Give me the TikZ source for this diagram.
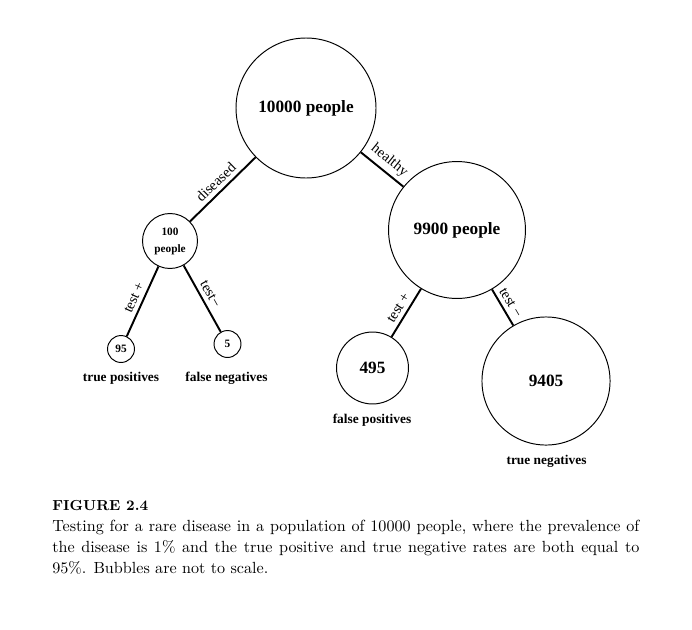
\documentclass[tikz,border=0pt]{standalone}
\usepackage{fontspec}
\newfontfamily\tms{Liberation Serif}
\begin{document}
\begin{tikzpicture}[x=0.62pt,y=-0.62pt,
  bubble/.style={draw, circle, inner sep=0pt, line width=0.6pt},
  bigtxt/.style={font=\tms\bfseries\fontsize{10.7}{12}\selectfont},
  smalltxt/.style={font=\tms\bfseries\fontsize{7}{10.5}\selectfont},
  conn/.style={line width=1.2pt},
  elabel/.style={midway, sloped, above, inner sep=2.5pt, font=\tms\fontsize{9}{10}\selectfont},
  outcome/.style={inner sep=0pt, font=\tms\bfseries\fontsize{8.3}{10}\selectfont},
  capline/.style={anchor=base west, inner sep=0pt, font=\fontsize{10}{13}\selectfont}]
\useasboundingbox (0,0) rectangle (692,629);
% bubbles
\node[bubble, bigtxt, minimum size=86.8pt] (root) at (306,108) {10000 people};
\node[bubble, smalltxt, minimum size=34.1pt, align=center] (p100) at (170,241) {100\\people};
\node[bubble, bigtxt, minimum size=84.9pt] (p9900) at (457,230) {9900 people};
\node[bubble, smalltxt, minimum size=16.7pt] (n95) at (121,349) {95};
\node[bubble, smalltxt, minimum size=16.7pt] (n5) at (227.5,344) {5};
\node[bubble, bigtxt, minimum size=44.6pt] (n495) at (372.5,368) {495};
\node[bubble, bigtxt, minimum size=79.4pt] (n9405) at (546,381) {9405};
% connectors
\draw[conn] (root) -- node[elabel] {diseased} (p100);
\draw[conn] (root) -- node[elabel] {healthy} (p9900);
\draw[conn] (p100) -- node[elabel] {test +} (n95);
\draw[conn] (p100) -- node[elabel] {test−} (n5);
\draw[conn] (p9900) -- node[elabel] {test +} (n495);
\draw[conn] (p9900) -- node[elabel] {test −} (n9405);
% outcome labels
\node[outcome] (tp) at (121,378) {true positives};
\node[outcome] (fn) at (226.5,378) {false negatives};
\node[outcome] (fp) at (372,420) {false positives};
\node[outcome] (tn) at (546.5,461.5) {true negatives};
% caption
\node[capline, font=\bfseries\fontsize{9}{11}\selectfont] (cap0) at (52,510.7) {FIGURE 2.4};
\node[capline] (cap1) at (52,531.3) {\makebox[364pt][s]{Testing for a rare disease in a population of 10000 people, where the prevalence of}};
\node[capline] (cap2) at (52,552.6) {\makebox[364pt][s]{the disease is 1\% and the true positive and true negative rates are both equal to}};
\node[capline] (cap3) at (52,573.6) {95\%. Bubbles are not to scale.};
\end{tikzpicture}
\end{document}
